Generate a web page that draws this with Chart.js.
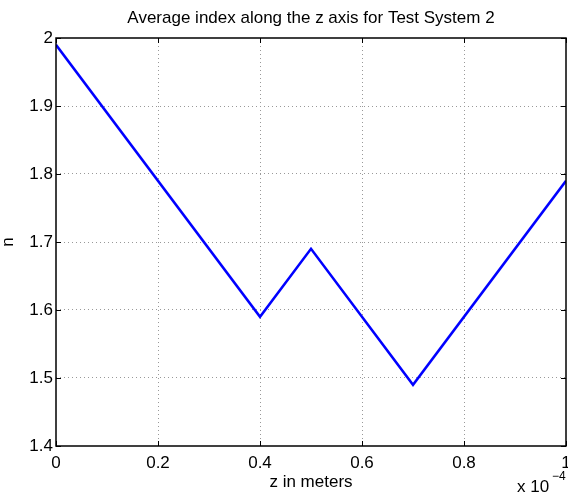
<!DOCTYPE html>
<html>
<head>
<meta charset="utf-8">
<script src="https://cdn.jsdelivr.net/npm/chart.js@4/dist/chart.umd.min.js"></script>
<style>
    html, body { margin: 0; padding: 0; background: #fff; }
    canvas { display: block; }
</style>
</head>
<body>
<canvas id="indexChart" width="568" height="495"></canvas>
<script>
// datos del grafico (z en unidades de 1e-4 m)
const zValues = [0, 0.4, 0.5, 0.7, 1.0];
const nValues = [1.99, 1.59, 1.69, 1.49, 1.79];
const xTicks = [0, 0.2, 0.4, 0.6, 0.8, 1];
const yTicks = [1.4, 1.5, 1.6, 1.7, 1.8, 1.9, 2];

const chartTitle = 'Average index along the z axis for Test System 2';
const xLabel = 'z in meters';
const yLabel = 'n';

const FONT = '"Liberation Sans", Arial, Helvetica, sans-serif';

// caja, marcas hacia dentro y textos al estilo matlab
const matlabFrame = {
    id: 'matlabFrame',
    afterDraw(chart) {
        const ctx = chart.ctx;
        const a = chart.chartArea;
        const xs = chart.scales.x;
        const ys = chart.scales.y;
        ctx.save();
        ctx.strokeStyle = '#000';
        ctx.lineWidth = 1;
        ctx.beginPath();
        xTicks.forEach(v => {
            const px = Math.round(xs.getPixelForValue(v)) + 0.5;
            ctx.moveTo(px, a.bottom); ctx.lineTo(px, a.bottom - 5);
            ctx.moveTo(px, a.top); ctx.lineTo(px, a.top + 5);
        });
        yTicks.forEach(v => {
            const py = Math.round(ys.getPixelForValue(v)) + 0.5;
            ctx.moveTo(a.left, py); ctx.lineTo(a.left + 5, py);
            ctx.moveTo(a.right, py); ctx.lineTo(a.right - 5, py);
        });
        ctx.stroke();
        ctx.lineWidth = 1.5;
        ctx.strokeRect(a.left, a.top, a.right - a.left, a.bottom - a.top);

        const cx = (a.left + a.right) / 2;
        ctx.fillStyle = '#000';
        ctx.textAlign = 'center';
        ctx.textBaseline = 'middle';
        ctx.font = '17px ' + FONT;
        ctx.fillText(chartTitle, cx, 18);
        ctx.fillText(xLabel, cx, 482);

        ctx.save();
        ctx.translate(8, (a.top + a.bottom) / 2);
        ctx.rotate(-Math.PI / 2);
        ctx.fillText(yLabel, 0, 0);
        ctx.restore();

        // multiplicador del eje x
        ctx.textAlign = 'left';
        ctx.font = '17px ' + FONT;
        ctx.fillText('x 10', 517, 487);
        ctx.font = '12px ' + FONT;
        ctx.fillText('\u22124', 552, 477);
        ctx.restore();
    }
};

const ctx = document.getElementById('indexChart').getContext('2d');
const indexChart = new Chart(ctx, {
    type: 'line',
    data: {
        datasets: [{
            data: zValues.map((z, i) => ({ x: z, y: nValues[i] })),
            borderColor: '#0000ff',
            borderWidth: 2.5,
            pointRadius: 0,
            tension: 0,
            fill: false
        }]
    },
    options: {
        responsive: false,
        animation: false,
        layout: {
            padding: { left: 0, right: 2, top: 38, bottom: 0 }
        },
        plugins: {
            legend: { display: false },
            title: { display: false },
            tooltip: { enabled: false }
        },
        scales: {
            x: {
                type: 'linear',
                min: 0,
                max: 1,
                afterFit: s => { s.height = 49; s.paddingLeft = 0; s.paddingRight = 0; },
                afterBuildTicks: s => { s.ticks = xTicks.map(v => ({ value: v })); },
                ticks: {
                    padding: 7,
                    color: '#000',
                    font: { family: FONT, size: 17 },
                    callback: v => String(Number(v.toFixed(1)))
                },
                grid: {
                    drawTicks: false,
                    color: ctx => (ctx.tick && (ctx.tick.value === 0 || ctx.tick.value === 1)) ? 'rgba(0,0,0,0)' : '#999',
                    lineWidth: 1
                },
                border: { display: false, dash: [1, 3] }
            },
            y: {
                type: 'linear',
                min: 1.4,
                max: 2,
                afterFit: s => { s.width = 56; s.paddingTop = 0; s.paddingBottom = 0; },
                afterBuildTicks: s => { s.ticks = yTicks.map(v => ({ value: v })); },
                ticks: {
                    padding: 3,
                    color: '#000',
                    font: { family: FONT, size: 17 },
                    callback: v => String(Number(v.toFixed(1)))
                },
                grid: {
                    drawTicks: false,
                    color: ctx => (ctx.tick && (ctx.tick.value === 1.4 || ctx.tick.value === 2)) ? 'rgba(0,0,0,0)' : '#999',
                    lineWidth: 1
                },
                border: { display: false, dash: [1, 3] }
            }
        }
    },
    plugins: [matlabFrame]
});
</script>
</body>
</html>
